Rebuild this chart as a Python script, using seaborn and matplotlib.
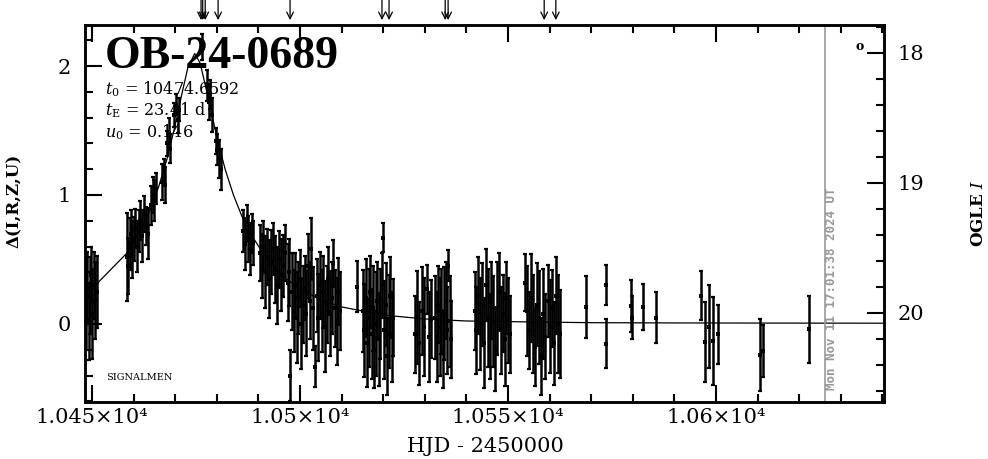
import matplotlib
matplotlib.use("Agg")
import matplotlib.pyplot as plt
import seaborn as sns
from matplotlib.ticker import MultipleLocator

# photometry (HJD-2450000, delta mag, error)
hjd = [10448.6, 10448.9, 10449.2, 10449.5, 10449.8, 10450.1, 10450.4, 10450.8, 10451.1,
       10458.4, 10458.7, 10459.0, 10459.3, 10459.7, 10460.0, 10460.4, 10460.8, 10461.2, 10461.6, 10462.0, 10462.4, 10462.9, 10463.4,
       10464.2, 10464.6, 10465.0, 10465.4, 10466.9, 10467.2, 10467.6, 10468.0, 10468.4, 10468.8, 10469.8, 10470.2, 10470.6, 10471.0,
       10476.4, 10477.7, 10478.0, 10478.4, 10478.8, 10479.7, 10480.1, 10480.6, 10481.0,
       10486.4, 10486.8, 10487.2, 10487.6, 10488.0, 10488.4, 10488.8,
       10490.4, 10490.8, 10491.2, 10491.6, 10492.0, 10492.5, 10493.0, 10493.5, 10494.0, 10494.5, 10495.0, 10495.5, 10496.0, 10496.5, 10497.0, 10497.4,
       10497.7, 10498.1, 10498.5, 10498.9, 10499.2, 10499.6, 10500.0, 10500.3, 10500.7, 10501.1, 10501.5, 10501.9, 10502.3, 10502.7, 10503.1, 10503.6,
       10504.0, 10504.4, 10504.8, 10505.2, 10505.6, 10506.0, 10506.4, 10506.8, 10507.2, 10507.6, 10508.0, 10508.4, 10508.8, 10509.2, 10509.6,
       10513.7,
       10515.1, 10515.4, 10515.8, 10516.1, 10516.5, 10516.8, 10517.2, 10517.5, 10517.9, 10518.2, 10518.6,
       10518.9, 10519.3, 10519.6, 10520.0, 10520.3, 10520.7, 10521.0, 10521.4, 10521.7, 10522.1, 10522.4,
       10527.6, 10528.1, 10528.7, 10529.3, 10529.9, 10530.5, 10531.1, 10531.6,
       10532.5, 10532.9, 10533.2, 10533.6, 10533.9, 10534.3, 10534.6, 10535.0, 10535.3, 10535.6, 10536.0, 10536.4,
       10542.0, 10542.4, 10542.9, 10543.3, 10543.8, 10544.2, 10544.7, 10545.1, 10545.6, 10546.0,
       10546.5, 10546.9, 10547.4, 10547.8, 10548.3, 10548.7, 10549.2, 10549.6, 10550.1, 10550.5,
       10554.1, 10554.5, 10555.0, 10555.5, 10556.0, 10556.5, 10557.0, 10557.5, 10558.0,
       10558.5, 10559.0, 10559.5, 10560.0, 10560.5, 10561.0, 10561.5, 10562.0, 10562.5,
       10568.75, 10573.56, 10573.56, 10579.5, 10579.7, 10582.45, 10585.58,
       10596.39, 10597.36, 10598.32, 10599.28, 10600.48, 10610.58, 10611.30, 10622.36]
dmag = [0.12, 0.28, 0.02, 0.22, 0.38, 0.08, 0.30, 0.18, 0.25,
        0.52, 0.45, 0.62, 0.70, 0.58, 0.66, 0.74, 0.60, 0.72, 0.80, 0.68, 0.85, 0.76, 0.70,
        0.92, 1.00, 0.96, 1.05, 1.10, 1.18, 1.08, 1.40, 1.48, 1.36, 1.62, 1.70, 1.58, 1.66,
        2.15, 1.85, 1.72, 1.78, 1.62, 1.42, 1.35, 1.28, 1.20,
        0.72, 0.62, 0.78, 0.66, 0.58, 0.70, 0.63,
        0.55, 0.45, 0.60, 0.40, 0.52, 0.35, 0.48, 0.58, 0.42, 0.30, 0.50, 0.38, 0.45, 0.55, 0.32, 0.40,
        -0.40, 0.25, 0.10, 0.30, 0.05, 0.20, 0.35, 0.00, 0.15, 0.28, 0.08, 0.45, 0.18, 0.58, 0.12, -0.33,
        0.22, 0.05, 0.30, 0.10, 0.25, -0.02, 0.15, 0.35, 0.08, 0.20, 0.47, 0.12, 0.02, 0.25, 0.10,
        0.29,
        0.10, -0.05, 0.20, -0.15, 0.05, 0.25, -0.08, 0.12, -0.20, 0.00, 0.18,
        -0.12, 0.08, 0.30, 0.67, -0.05, 0.15, -0.25, 0.02, 0.22, -0.10, 0.05,
        -0.08, 0.05, -0.15, 0.10, -0.02, 0.27, -0.10, 0.04,
        0.05, -0.10, 0.15, -0.02, 0.10, -0.20, 0.08, 0.18, -0.05, 0.45, 0.02, -0.12,
        0.10, -0.05, 0.22, 0.00, 0.15, -0.15, 0.30, 0.05, -0.10, 0.18,
        0.02, -0.20, 0.12, 0.25, -0.05, 0.08, -0.12, 0.20, 0.03, -0.08,
        0.32, 0.10, -0.05, 0.20, 0.00, -0.18, 0.15, 0.05, -0.25,
        0.08, -0.10, 0.18, -0.02, 0.12, -0.15, 0.22, 0.00, -0.08,
        0.13, 0.30, -0.155, 0.14, 0.05, 0.13, 0.05,
        0.22, -0.14, -0.02, -0.13, -0.08, -0.24, -0.21, -0.04]
err = [0.32, 0.28, 0.30, 0.30, 0.22, 0.35, 0.26, 0.30, 0.28,
       0.34, 0.22, 0.20, 0.18, 0.22, 0.17, 0.15, 0.20, 0.16, 0.15, 0.20, 0.14, 0.15, 0.20,
       0.15, 0.14, 0.16, 0.12, 0.14, 0.10, 0.14, 0.10, 0.12, 0.11, 0.09, 0.08, 0.10, 0.09,
       0.10, 0.12, 0.14, 0.11, 0.13, 0.10, 0.12, 0.15, 0.16,
       0.16, 0.20, 0.14, 0.18, 0.20, 0.15, 0.17,
       0.22, 0.25, 0.20, 0.28, 0.22, 0.30, 0.25, 0.20, 0.26, 0.30, 0.22, 0.28, 0.24, 0.22, 0.30, 0.26,
       0.20, 0.30, 0.32, 0.25, 0.35, 0.28, 0.22, 0.35, 0.30, 0.25, 0.33, 0.25, 0.30, 0.24, 0.32, 0.16,
       0.28, 0.34, 0.26, 0.32, 0.28, 0.35, 0.30, 0.25, 0.33, 0.28, 0.18, 0.30, 0.34, 0.26, 0.30,
       0.20,
       0.32, 0.36, 0.30, 0.34, 0.38, 0.28, 0.35, 0.33, 0.30, 0.40, 0.30,
       0.36, 0.35, 0.25, 0.11, 0.38, 0.32, 0.30, 0.36, 0.30, 0.35, 0.30,
       0.30, 0.36, 0.32, 0.34, 0.38, 0.19, 0.35, 0.30,
       0.32, 0.35, 0.30, 0.38, 0.33, 0.30, 0.36, 0.30, 0.34, 0.12, 0.35, 0.30,
       0.30, 0.34, 0.30, 0.36, 0.32, 0.35, 0.28, 0.38, 0.33, 0.30,
       0.35, 0.32, 0.36, 0.30, 0.34, 0.30, 0.36, 0.28, 0.33, 0.30,
       0.22, 0.35, 0.30, 0.34, 0.38, 0.30, 0.32, 0.36, 0.30,
       0.35, 0.33, 0.28, 0.36, 0.30, 0.32, 0.30, 0.38, 0.34,
       0.24, 0.155, 0.19, 0.20, 0.17, 0.18, 0.20,
       0.19, 0.31, 0.32, 0.34, 0.23, 0.28, 0.20, 0.26]

# PSPL model (t0 = 10474.6592, tE = 23.41, u0 = 0.146), values read at these epochs
curve_t = [10448.6, 10451.1, 10458.3, 10462.0, 10464.0, 10466.0, 10468.0, 10470.0, 10471.5, 10473.0,
           10474.66, 10476.0, 10478.0, 10480.0, 10482.0, 10484.0, 10486.0, 10488.0, 10492.0, 10496.0,
           10500.0, 10505.0, 10510.0, 10520.0, 10530.0, 10540.0, 10555.0, 10570.0, 10590.0, 10610.0, 10640.4]
curve_d = [0.256, 0.31, 0.547, 0.746, 0.888, 1.063, 1.278, 1.544, 1.770, 1.984,
           2.097, 2.021, 1.742, 1.448, 1.199, 0.999, 0.837, 0.704, 0.505, 0.367,
           0.271, 0.188, 0.132, 0.069, 0.039, 0.023, 0.016, 0.010, 0.008, 0.007, 0.006]

# epochs marked with arrows above the frame
arrow_t = [10476.2, 10476.6, 10477.2, 10480.3, 10497.6, 10519.7, 10521.4, 10534.9, 10535.6, 10558.7, 10561.5]

now_hjd = 10626.21
xticks = [10450, 10500, 10550, 10600]
xtick_labels = ["1.045×10⁴", "1.05×10⁴", "1.055×10⁴", "1.06×10⁴"]
yticks = [0, 1, 2]
iticks = [18, 19, 20]

sns.set_theme(style="ticks")
plt.rcParams['font.family'] = ['DejaVu Serif']
plt.rcParams['mathtext.fontset'] = 'dejavuserif'
for key in ['text.color', 'axes.labelcolor', 'xtick.color', 'ytick.color', 'axes.edgecolor']:
    plt.rcParams[key] = 'black'

fig = plt.figure(figsize=(9.88, 4.59), dpi=100)
ax = fig.add_axes([85 / 988, 57 / 459, 799 / 988, 377 / 459])

ax.errorbar(hjd, dmag, yerr=err, fmt='none', ecolor='black', elinewidth=1.8, capsize=1.6, capthick=1.6)
sns.scatterplot(x=hjd, y=dmag, marker='s', s=6, color='black', linewidth=0, ax=ax)
sns.lineplot(x=curve_t, y=curve_d, estimator=None, sort=False, color='black', lw=0.9, ax=ax)
ax.axvline(now_hjd, color='#999999', lw=1.2)

ax.set_xlim(10448.3, 10640.4)
ax.set_ylim(-0.605, 2.318)
ax.set_xticks(xticks, xtick_labels)
ax.set_yticks(yticks)
ax.xaxis.set_minor_locator(MultipleLocator(10))
ax.yaxis.set_minor_locator(MultipleLocator(0.2))
ax.tick_params(which='both', direction='in', top=True, bottom=True, left=True, right=False, width=1.5, colors='black')
ax.tick_params(which='major', length=12, labelsize=15)
ax.tick_params(which='minor', length=6)
ax.tick_params(axis='x', pad=4)
ax.tick_params(axis='y', pad=10)
for s in ax.spines.values():
    s.set_linewidth(1.8)
    s.set_color('black')

ax.set_xlabel("HJD - 2450000", fontsize=15)
ax.xaxis.set_label_coords(0.501, -0.093)
ax.set_ylabel("Δ(I,R,Z,U)", fontsize=12, fontweight='bold')
ax.yaxis.set_label_coords(-0.078, 0.533)

ax2 = ax.twinx()
ax2.set_ylim(20.685, 17.785)
ax2.set_yticks(iticks)
ax2.yaxis.set_minor_locator(MultipleLocator(0.2))
ax2.tick_params(which='both', direction='in', width=1.5, colors='black')
ax2.tick_params(which='major', length=12, labelsize=15, pad=10)
ax2.tick_params(which='minor', length=6)
ax2.set_ylabel("OGLE $I$", fontsize=12, fontweight='bold')
ax2.yaxis.set_label_coords(1.1076, 0.50)
for s in ax2.spines.values():
    s.set_linewidth(1.8)
    s.set_color('black')

ax.text(0.025, 0.886, "OB-24-0689", transform=ax.transAxes, fontsize=33,
        fontweight='bold', family='Liberation Serif', va='baseline')
ax.text(0.025, 0.817, r"$t_0$ = 10474.6592", transform=ax.transAxes, fontsize=11.5, va='baseline')
ax.text(0.025, 0.760, r"$t_{\rm E}$ = 23.41 d", transform=ax.transAxes, fontsize=11.5, va='baseline')
ax.text(0.025, 0.703, r"$u_0$ = 0.146", transform=ax.transAxes, fontsize=11.5, va='baseline')
ax.text(0.026, 0.064, "SIGNALMEN", transform=ax.transAxes, fontsize=7, va='center')
ax.text(0.969, 0.942, "o", transform=ax.transAxes, fontsize=9, fontweight='bold', ha='center', va='center')
ax.text(0.934, 0.032, "Mon Nov 11 17:01:38 2024 UT", transform=ax.transAxes, rotation=90,
        fontsize=9, family='DejaVu Sans Mono', fontweight='bold', color='#999999', ha='center', va='bottom')

for t in arrow_t:
    ax.annotate('', xy=(t, 1.013), xycoords=ax.get_xaxis_transform(),
                xytext=(t, 1.066), textcoords=ax.get_xaxis_transform(),
                arrowprops=dict(arrowstyle='->', color='black', lw=0.9, shrinkA=0, shrinkB=0, mutation_scale=12),
                annotation_clip=False)

fig.savefig("out.png", dpi=100)
